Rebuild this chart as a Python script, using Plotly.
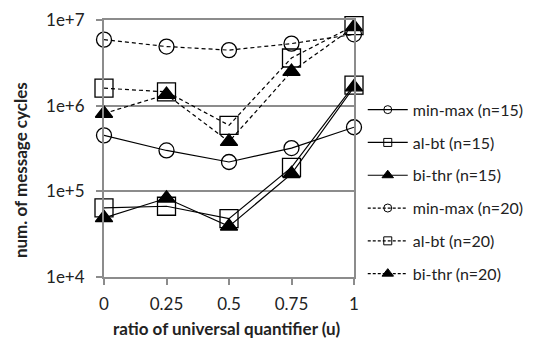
import plotly.graph_objects as go

x_vals = [0, 0.25, 0.5, 0.75, 1]
x_ticktext = ["0", "0.25", "0.5", "0.75", "1"]
y_tickvals = [1e4, 1e5, 1e6, 1e7]
y_ticktext = ["1e+4", "1e+5", "1e+6", "1e+7"]

minmax_15 = [4.5e5, 3.0e5, 2.2e5, 3.2e5, 5.6e5]
albt_15 = [6.4e4, 6.7e4, 4.8e4, 1.9e5, 1.74e6]
bithr_15 = [4.9e4, 8.3e4, 3.9e4, 1.6e5, 1.65e6]
minmax_20 = [5.9e6, 4.9e6, 4.45e6, 5.3e6, 6.8e6]
albt_20 = [1.6e6, 1.45e6, 5.9e5, 3.6e6, 8.6e6]
bithr_20 = [8.1e5, 1.35e6, 3.8e5, 2.5e6, 8.3e6]

series = [
    ("min-max (n=15)", minmax_15, "circle-open", "solid", 15),
    ("al-bt (n=15)", albt_15, "square-open", "solid", 18),
    ("bi-thr (n=15)", bithr_15, "triangle-up", "solid", 15),
    ("min-max (n=20)", minmax_20, "circle-open", "dash", 15),
    ("al-bt (n=20)", albt_20, "square-open", "dash", 18),
    ("bi-thr (n=20)", bithr_20, "triangle-up", "dash", 15),
]

fig = go.Figure()
for name, ys, sym, dash, size in series:
    fig.add_trace(go.Scatter(
        x=x_vals, y=ys, mode="lines+markers", name=name, showlegend=False,
        line=dict(color="black", width=1.2, dash=dash if dash == "solid" else "4px,3px"),
        marker=dict(symbol=sym, size=size, color="black",
                    line=dict(color="black", width=1.3)),
        cliponaxis=False,
    ))
for i, (name, ys, sym, dash, size) in enumerate(series):
    fig.add_trace(go.Scatter(
        x=[None], y=[None], mode="lines+markers", name=name, showlegend=True,
        legendgroup="g%d" % i,
        line=dict(color="black", width=1.2, dash=dash if dash == "solid" else "3px,2px"),
        marker=dict(symbol=sym, size=8 if sym != "triangle-up" else 10, color="black",
                    line=dict(color="black", width=1)),
    ))

axis_gray = "#8c8c8c"
fig.update_layout(
    width=539, height=347,
    margin=dict(l=104, r=185, t=20, b=70, autoexpand=False),
    paper_bgcolor="white", plot_bgcolor="white",
    font=dict(family="Lato, Open Sans, sans-serif", size=16, color="#222"),
    showlegend=True,
    legend=dict(x=1.035, y=0.717, xanchor="left", yanchor="top",
                tracegroupgap=9, font=dict(size=16, color="#222"),
                itemwidth=40, bgcolor="rgba(0,0,0,0)"),
    xaxis=dict(
        range=[0, 1], tickmode="array", tickvals=x_vals, ticktext=x_ticktext,
        showgrid=False, zeroline=False, showline=True, linecolor=axis_gray, linewidth=2,
        mirror=True, ticks="outside", ticklen=6, tickcolor=axis_gray, tickwidth=1.5,
        tickfont=dict(size=17), ticklabelstandoff=5, automargin=False,
    ),
    yaxis=dict(
        type="log", range=[4, 7], tickmode="array", tickvals=y_tickvals, ticktext=y_ticktext,
        showgrid=True, gridcolor=axis_gray, gridwidth=1.5, zeroline=False,
        showline=True, linecolor=axis_gray, linewidth=2, mirror=True,
        ticks="outside", ticklen=6, tickcolor=axis_gray, tickwidth=1.5,
        tickfont=dict(size=17), ticklabelstandoff=8, automargin=False,
    ),
    annotations=[
        dict(text="<b>ratio of universal quantifier (u)</b>", xref="paper", yref="paper",
             x=0.49, y=-0.2, xanchor="center", yanchor="middle", showarrow=False,
             font=dict(size=17, color="#222")),
        dict(text="<b>num. of message cycles</b>", xref="paper", yref="paper",
             x=-0.336, y=0.416, xanchor="center", yanchor="middle", showarrow=False,
             textangle=-90, font=dict(size=17, color="#222")),
    ],
)

fig.write_html("out.html")
